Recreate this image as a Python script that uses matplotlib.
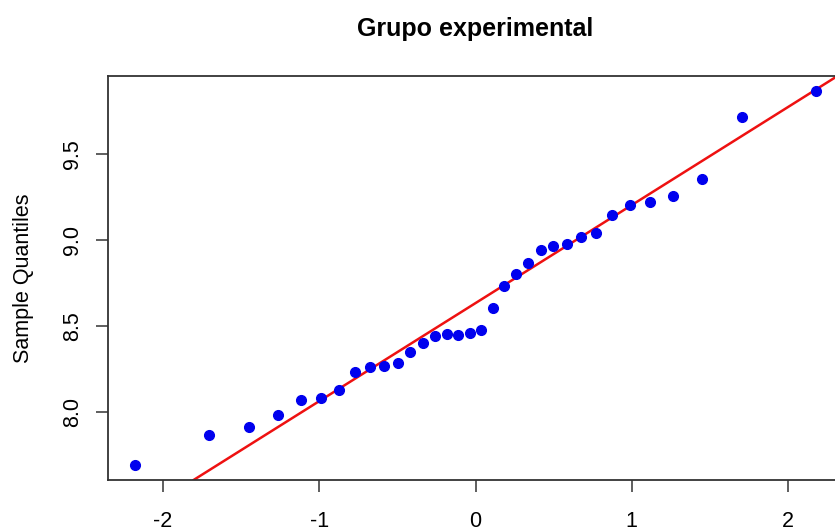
import matplotlib.pyplot as plt
import numpy as np

plt.rcParams['font.family'] = ['Liberation Sans', 'DejaVu Sans']

# cuantiles teóricos (normal) para n = 34
theoretical = [-2.178, -1.705, -1.450, -1.265, -1.115, -0.987, -0.874, -0.770,
               -0.674, -0.585, -0.499, -0.417, -0.338, -0.261, -0.185, -0.111,
               -0.037, 0.037, 0.111, 0.185, 0.261, 0.338, 0.417, 0.499, 0.585,
               0.674, 0.770, 0.874, 0.987, 1.115, 1.265, 1.450, 1.705, 2.178]

# cuantiles muestrales (grupo experimental)
sample = [7.694, 7.870, 7.913, 7.983, 8.072, 8.084, 8.132, 8.237, 8.262,
          8.270, 8.285, 8.352, 8.403, 8.446, 8.454, 8.452, 8.462, 8.481,
          8.605, 8.733, 8.802, 8.866, 8.942, 8.965, 8.977, 9.017, 9.043,
          9.145, 9.206, 9.225, 9.258, 9.357, 9.717, 9.869]

x_ticks = [-2, -1, 0, 1, 2]
y_ticks = [8.0, 8.5, 9.0, 9.5]

# recta tipo qqline: pasa por los cuartiles
q_y = np.percentile(sample, [25, 75])
q_x = np.percentile(theoretical, [25, 75])
slope = (q_y[1] - q_y[0]) / (q_x[1] - q_x[0])
intercept = q_y[0] - slope * q_x[0]

fig = plt.figure(figsize=(8.35, 5.31), dpi=100)
ax = fig.add_axes([108 / 835, 1 - 480 / 531, 735 / 835, 404 / 531])

ax.plot(theoretical, sample, 'o', color='#0000ee', markersize=7, zorder=3)
ax.axline((0, intercept), slope=slope, color='#ee1111', linewidth=1.8, zorder=2)

ax.set_xlim(-2.352, 2.352)
ax.set_ylim(7.607, 9.956)
ax.set_xticks(x_ticks)
ax.set_xticklabels([str(t) for t in x_ticks])
ax.set_yticks(y_ticks)
ax.set_yticklabels(['%.1f' % t for t in y_ticks], rotation=90, va='center')

ax.tick_params(axis='both', length=8.5, width=1.1, color='#333333', labelsize=15.5)
ax.tick_params(axis='x', pad=14)
ax.tick_params(axis='y', pad=9.5)
for s in ax.spines.values():
    s.set_linewidth(1.3)
    s.set_color('#333333')

ax.set_ylabel('Sample Quantiles', fontsize=15.5, labelpad=20)
ax.set_title('Grupo experimental', fontsize=18, fontweight='bold', pad=29)

fig.savefig('out.png', dpi=100)
